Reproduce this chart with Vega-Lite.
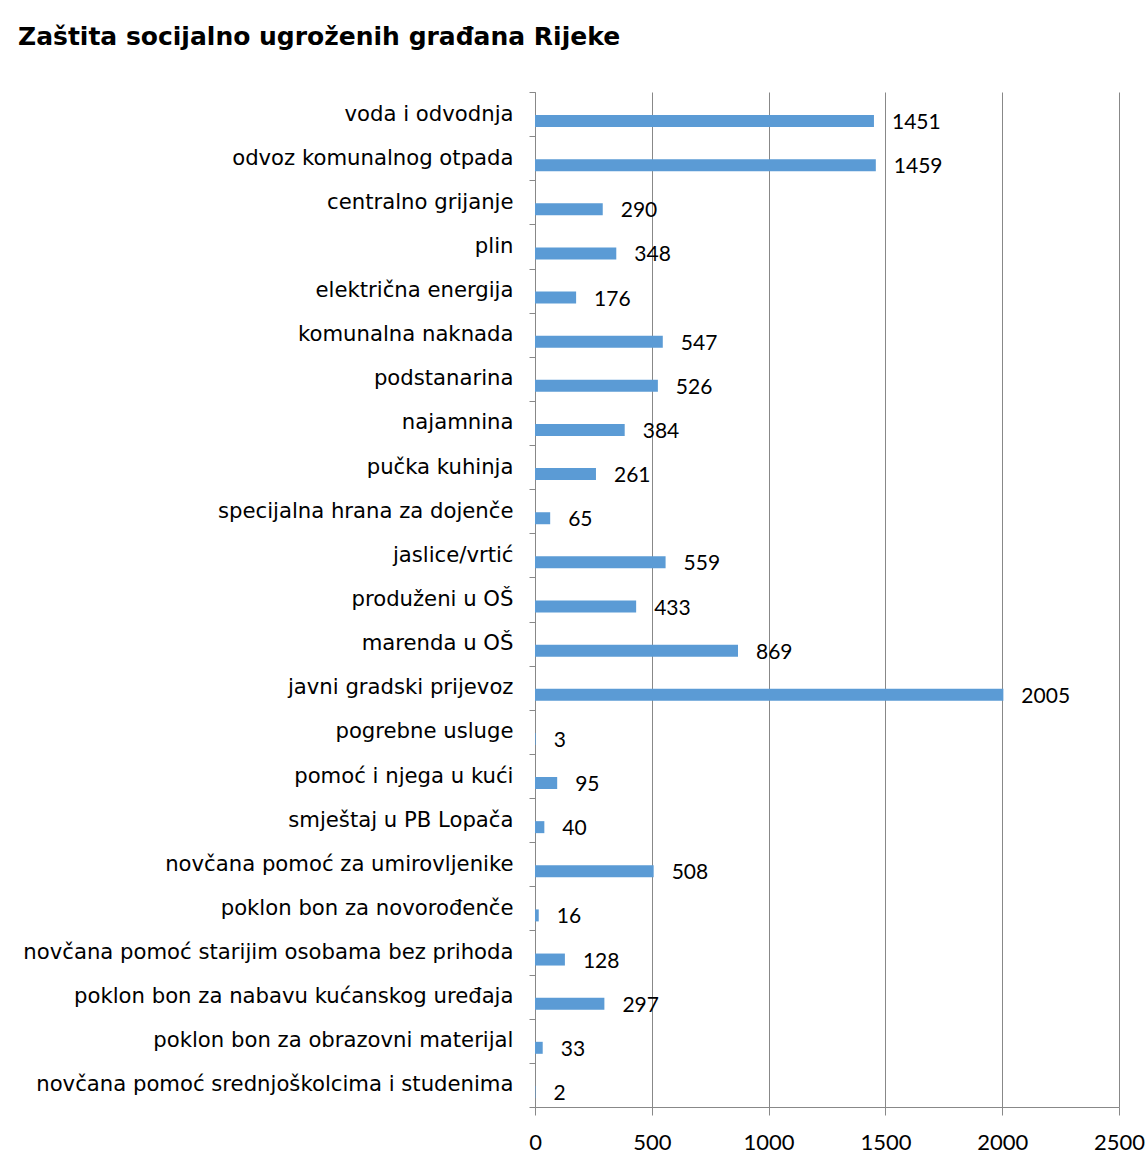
{
  "$schema": "https://vega.github.io/schema/vega-lite/v6.json",
  "autosize": {"type": "none"},
  "width": 584,
  "height": 1015,
  "padding": {"left": 535, "top": 92, "right": 28, "bottom": 57},
  "background": "white",
  "title": {
    "text": "Zaštita socijalno ugroženih građana Rijeke",
    "anchor": "start",
    "frame": "group",
    "dx": -517,
    "offset": 31,
    "font": "DejaVu Sans",
    "fontSize": 25,
    "fontWeight": "bold",
    "color": "#000000"
  },
  "data": {
    "values": [
      {"kategorija": "voda i odvodnja", "broj": 1451},
      {"kategorija": "odvoz komunalnog otpada", "broj": 1459},
      {"kategorija": "centralno grijanje", "broj": 290},
      {"kategorija": "plin", "broj": 348},
      {"kategorija": "električna energija", "broj": 176},
      {"kategorija": "komunalna naknada", "broj": 547},
      {"kategorija": "podstanarina", "broj": 526},
      {"kategorija": "najamnina", "broj": 384},
      {"kategorija": "pučka kuhinja", "broj": 261},
      {"kategorija": "specijalna hrana za dojenče", "broj": 65},
      {"kategorija": "jaslice/vrtić", "broj": 559},
      {"kategorija": "produženi u OŠ", "broj": 433},
      {"kategorija": "marenda u OŠ", "broj": 869},
      {"kategorija": "javni gradski prijevoz", "broj": 2005},
      {"kategorija": "pogrebne usluge", "broj": 3},
      {"kategorija": "pomoć i njega u kući", "broj": 95},
      {"kategorija": "smještaj u PB Lopača", "broj": 40},
      {"kategorija": "novčana pomoć za umirovljenike", "broj": 508},
      {"kategorija": "poklon bon za novorođenče", "broj": 16},
      {"kategorija": "novčana pomoć starijim osobama bez prihoda", "broj": 128},
      {"kategorija": "poklon bon za nabavu kućanskog uređaja ", "broj": 297},
      {"kategorija": "poklon bon za obrazovni materijal", "broj": 33},
      {"kategorija": "novčana pomoć srednjoškolcima i studenima", "broj": 2}
    ]
  },
  "encoding": {
    "y": {
      "field": "kategorija",
      "type": "nominal",
      "sort": null,
      "title": null,
      "scale": {"paddingInner": 0, "paddingOuter": 0},
      "axis": {
        "tickBand": "extent",
        "tickSize": 6,
        "tickColor": "#888888",
        "domainColor": "#888888",
        "labelPadding": 16,
        "labelFont": "DejaVu Sans",
        "labelFontSize": 21.2,
        "labelColor": "#000000",
        "labelLimit": 600,
        "grid": false
      }
    },
    "x": {
      "field": "broj",
      "type": "quantitative",
      "title": null,
      "scale": {"domain": [0, 2500], "nice": false},
      "axis": {
        "values": [0, 500, 1000, 1500, 2000, 2500],
        "format": "d",
        "grid": true,
        "gridColor": "#888888",
        "tickColor": "#888888",
        "domainColor": "#888888",
        "tickSize": 8,
        "labelPadding": 17,
        "labelFont": "Lato",
        "labelFontSize": 22,
        "labelColor": "#000000",
        "labelFlush": false
      }
    }
  },
  "layer": [
    {
      "mark": {"type": "bar", "color": "#5B9BD5", "size": 12, "yOffset": 7}
    },
    {
      "mark": {
        "type": "text",
        "align": "left",
        "baseline": "middle",
        "dx": 18,
        "yOffset": 9,
        "font": "Lato",
        "fontSize": 21,
        "color": "#000000"
      },
      "encoding": {"text": {"field": "broj", "type": "quantitative"}}
    }
  ],
  "config": {"view": {"stroke": null}}
}
